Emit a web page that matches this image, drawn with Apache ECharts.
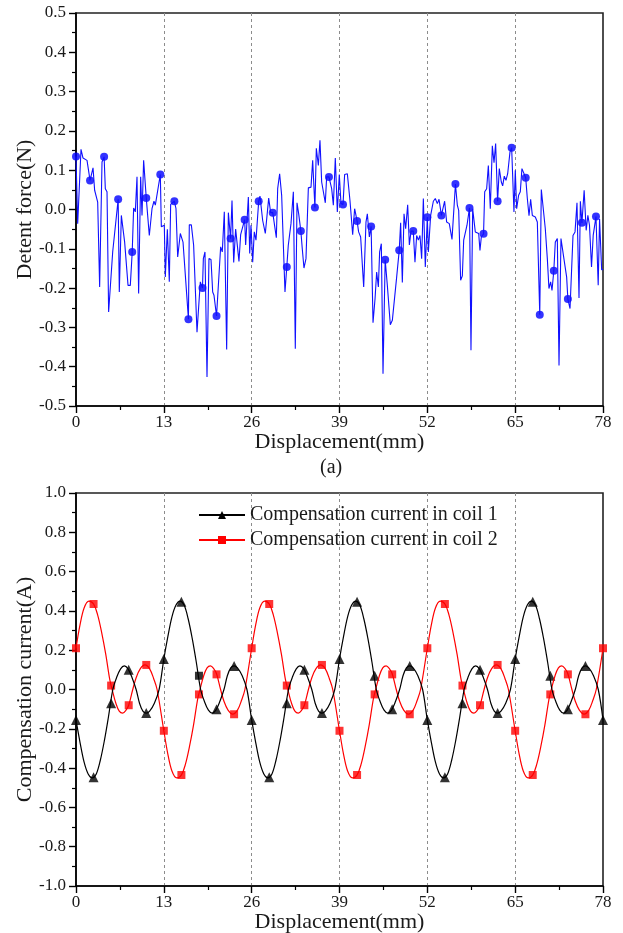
<!DOCTYPE html>
<html>
<head>
<meta charset="utf-8">
<script src="https://cdn.jsdelivr.net/npm/echarts@6/dist/echarts.min.js"></script>
<style>
html,body{margin:0;padding:0;background:#fff;}
#chart{width:623px;height:933px;}
</style>
</head>
<body>
<div id="chart"></div>
<script>
// ---------- Panel (a): detent force ----------
const forceX = [0,0.25,0.74,1.04,1.3,1.63,2.08,2.52,2.76,3.21,3.50,3.85,4.16,4.34,4.59,4.83,5.43,6.24,6.41,6.71,7.20,7.70,8.04,8.32,8.53,8.78,9.03,9.27,9.57,9.77,10.01,10.40,10.85,11.25,11.54,11.74,12.48,12.63,13.07,13.22,13.52,13.81,14.01,14.56,14.80,15.05,15.44,15.84,16.08,16.64,16.77,17.07,17.41,17.66,17.91,18.40,18.72,18.85,19.09,19.39,19.68,19.98,20.23,20.42,20.80,21.41,21.65,21.95,22.30,22.55,22.88,23.09,23.34,23.63,23.83,24.12,24.37,24.57,24.96,25.11,25.51,25.71,25.90,26.15,26.39,26.64,27.04,27.23,27.63,28.02,28.52,28.81,29.12,29.40,29.65,29.85,30.14,30.44,30.69,30.93,31.20,31.42,31.82,32.17,32.46,32.71,32.96,33.28,33.49,33.74,34.04,34.39,34.78,35.03,35.36,35.57,35.87,36.11,36.36,36.61,36.90,37.10,37.44,37.84,38.09,38.38,38.68,38.97,39.22,39.52,39.76,40.16,40.55,40.95,41.24,41.60,41.83,42.13,42.33,42.58,42.92,43.12,43.42,43.68,43.96,44.26,44.50,44.75,44.94,45.19,45.44,45.76,46.08,46.52,46.82,47.07,47.46,47.84,48.05,48.30,48.55,48.79,49.09,49.34,49.59,49.92,50.17,50.42,50.67,50.91,51.16,51.41,51.70,52.00,52.15,52.49,52.89,53.18,53.48,53.73,54.08,54.56,54.86,55.25,55.65,56.16,56.44,56.64,56.93,57.18,57.38,57.62,57.87,58.24,58.46,58.71,59.10,59.60,59.79,59.99,60.32,60.49,60.78,61.03,61.32,61.62,61.87,62.11,62.40,62.65,62.95,63.15,63.39,63.64,63.89,64.23,64.48,64.82,65.02,65.22,65.51,65.76,66.00,66.25,66.56,66.80,67.05,67.29,67.54,67.98,68.28,68.64,68.87,69.12,69.46,69.76,70.00,70.25,70.45,70.72,70.94,71.24,71.49,71.78,72.18,72.62,72.80,73.12,73.56,73.86,74.15,74.45,74.65,74.88,75.21,75.51,75.76,76.00,76.30,76.55,76.96,77.29,77.49,77.80,78.00];
const forceY = [0.135,-0.036,0.153,0.131,0.128,0.125,0.074,0.106,0.049,0.019,-0.197,0.121,0.134,0.053,0.045,-0.261,-0.108,0.026,-0.210,-0.015,-0.083,-0.193,-0.193,-0.108,0.004,-0.006,0.083,-0.214,0.083,-0.015,0.125,0.029,-0.066,0.002,0.021,0.011,0.089,-0.044,-0.040,-0.172,-0.050,-0.184,0.013,0.021,0.002,-0.121,-0.061,-0.083,-0.083,-0.279,-0.039,-0.039,-0.091,-0.091,-0.312,-0.184,-0.200,-0.125,-0.108,-0.426,-0.125,-0.127,-0.210,-0.218,-0.271,-0.095,-0.108,-0.006,-0.356,-0.008,-0.074,0.023,-0.135,-0.050,-0.053,-0.132,-0.064,-0.064,-0.026,-0.090,0.032,-0.112,-0.040,-0.134,-0.057,-0.078,0.021,0.034,-0.028,-0.061,0.029,-0.008,-0.008,-0.008,-0.072,0.053,0.091,0.036,0.036,-0.210,-0.146,-0.091,-0.036,0.045,-0.354,0.017,-0.011,-0.055,-0.100,-0.149,-0.125,0.055,0.057,0.125,0.005,0.156,0.112,0.176,0.070,0.070,0.017,0.083,0.083,0.053,0.011,0.131,-0.006,0.089,0.015,0.013,0.089,0.091,0.023,-0.064,0.002,-0.029,-0.057,-0.070,-0.072,-0.197,-0.032,-0.011,-0.070,-0.043,-0.288,-0.227,-0.159,-0.197,-0.108,-0.087,-0.418,-0.128,-0.193,-0.293,-0.282,-0.278,-0.172,-0.104,-0.034,-0.186,-0.011,-0.049,0.012,-0.090,-0.055,-0.055,-0.134,-0.066,-0.078,-0.066,-0.125,0.028,-0.146,-0.020,-0.108,-0.015,0.021,0.028,0.015,0.026,-0.015,0.021,-0.032,-0.036,-0.076,0.065,0.011,-0.002,-0.180,-0.169,-0.078,-0.078,-0.040,0.004,-0.358,0.002,-0.057,-0.061,-0.104,-0.070,-0.062,0.045,0.053,0.112,0.002,0.162,0.119,0.168,0.021,0.104,0.070,0.060,0.085,0.074,0.091,0.146,0.157,-0.006,0.100,0.002,0.036,0.045,0.104,0.106,0.081,0.028,-0.016,0.026,-0.015,-0.019,-0.032,-0.268,0.051,0.049,-0.049,-0.125,-0.201,-0.184,-0.206,-0.156,-0.083,-0.074,-0.397,-0.074,-0.121,-0.172,-0.228,-0.252,-0.066,-0.057,0.017,-0.225,0.021,-0.034,0.049,-0.053,-0.015,-0.040,-0.146,-0.066,-0.018,-0.193,-0.024,-0.153,-0.153];
const forceMarkX = [0,2.08,4.16,6.24,8.32,10.40,12.48,14.56,16.64,18.72,20.80,22.88,24.96,27.04,29.12,31.20,33.28,35.36,37.44,39.52,41.60,43.68,45.76,47.84,49.92,52.00,54.08,56.16,58.24,60.32,62.40,64.48,66.56,68.64,70.72,72.80,74.88,76.96];
const forceMarkY = [0.135,0.074,0.134,0.026,-0.108,0.029,0.089,0.021,-0.279,-0.200,-0.271,-0.074,-0.026,0.021,-0.008,-0.146,-0.055,0.005,0.083,0.013,-0.029,-0.043,-0.128,-0.104,-0.055,-0.020,-0.015,0.065,0.004,-0.062,0.021,0.157,0.081,-0.268,-0.156,-0.228,-0.034,-0.018];

// ---------- Panel (b): compensation currents ----------
const coil1Line = [[0,-0.155],[0.6,-0.27],[1.2,-0.37],[1.8,-0.43],[2.4,-0.45],[3.0,-0.43],[3.6,-0.36],[4.2,-0.26],[4.8,-0.14],[5.45,0],[6.0,0.06],[6.6,0.105],[7.15,0.12],[7.7,0.105],[8.3,0.06],[8.9,0],[9.4,-0.07],[9.9,-0.11],[10.4,-0.12],[10.9,-0.11],[11.6,-0.07],[12.3,0],[13.0,0.155],[13.6,0.27],[14.2,0.37],[14.8,0.43],[15.4,0.45],[16.0,0.43],[16.6,0.36],[17.2,0.26],[17.8,0.14],[18.45,0],[19.0,-0.06],[19.6,-0.105],[20.15,-0.12],[20.7,-0.105],[21.3,-0.06],[21.9,0],[22.4,0.07],[22.9,0.11],[23.4,0.12],[23.9,0.11],[24.6,0.07],[25.3,0],
[26,-0.155],[26.6,-0.27],[27.2,-0.37],[27.8,-0.43],[28.4,-0.45],[29.0,-0.43],[29.6,-0.36],[30.2,-0.26],[30.8,-0.14],[31.45,0],[32.0,0.06],[32.6,0.105],[33.15,0.12],[33.7,0.105],[34.3,0.06],[34.9,0],[35.4,-0.07],[35.9,-0.11],[36.4,-0.12],[36.9,-0.11],[37.6,-0.07],[38.3,0],[39.0,0.155],[39.6,0.27],[40.2,0.37],[40.8,0.43],[41.4,0.45],[42.0,0.43],[42.6,0.36],[43.2,0.26],[43.8,0.14],[44.45,0],[45.0,-0.06],[45.6,-0.105],[46.15,-0.12],[46.7,-0.105],[47.3,-0.06],[47.9,0],[48.4,0.07],[48.9,0.11],[49.4,0.12],[49.9,0.11],[50.6,0.07],[51.3,0],
[52,-0.155],[52.6,-0.27],[53.2,-0.37],[53.8,-0.43],[54.4,-0.45],[55.0,-0.43],[55.6,-0.36],[56.2,-0.26],[56.8,-0.14],[57.45,0],[58.0,0.06],[58.6,0.105],[59.15,0.12],[59.7,0.105],[60.3,0.06],[60.9,0],[61.4,-0.07],[61.9,-0.11],[62.4,-0.12],[62.9,-0.11],[63.6,-0.07],[64.3,0],[65.0,0.155],[65.6,0.27],[66.2,0.37],[66.8,0.43],[67.4,0.45],[68.0,0.43],[68.6,0.36],[69.2,0.26],[69.8,0.14],[70.45,0],[71.0,-0.06],[71.6,-0.105],[72.15,-0.12],[72.7,-0.105],[73.3,-0.06],[73.9,0],[74.4,0.07],[74.9,0.11],[75.4,0.12],[75.9,0.11],[76.6,0.07],[77.3,0],[78,-0.155]];
const coil2Line = [[0,0.21],[0.6,0.33],[1.2,0.415],[1.9,0.45],[2.6,0.435],[3.2,0.38],[3.8,0.29],[4.4,0.18],[5.0,0.05],[5.35,0],[5.9,-0.07],[6.4,-0.11],[6.9,-0.12],[7.4,-0.105],[7.8,-0.08],[8.4,0],[8.9,0.06],[9.5,0.105],[10.2,0.125],[10.9,0.105],[11.5,0.055],[12.0,0],[13.0,-0.21],[13.6,-0.33],[14.2,-0.415],[14.9,-0.45],[15.6,-0.435],[16.2,-0.38],[16.8,-0.29],[17.4,-0.18],[18.0,-0.05],[18.35,0],[18.9,0.07],[19.4,0.11],[19.9,0.12],[20.4,0.105],[20.8,0.08],[21.4,0],[21.9,-0.06],[22.5,-0.105],[23.2,-0.125],[23.9,-0.105],[24.5,-0.055],[25.0,0],
[26,0.21],[26.6,0.33],[27.2,0.415],[27.9,0.45],[28.6,0.435],[29.2,0.38],[29.8,0.29],[30.4,0.18],[31.0,0.05],[31.35,0],[31.9,-0.07],[32.4,-0.11],[32.9,-0.12],[33.4,-0.105],[33.8,-0.08],[34.4,0],[34.9,0.06],[35.5,0.105],[36.2,0.125],[36.9,0.105],[37.5,0.055],[38.0,0],[39.0,-0.21],[39.6,-0.33],[40.2,-0.415],[40.9,-0.45],[41.6,-0.435],[42.2,-0.38],[42.8,-0.29],[43.4,-0.18],[44.0,-0.05],[44.35,0],[44.9,0.07],[45.4,0.11],[45.9,0.12],[46.4,0.105],[46.8,0.08],[47.4,0],[47.9,-0.06],[48.5,-0.105],[49.2,-0.125],[49.9,-0.105],[50.5,-0.055],[51.0,0],
[52,0.21],[52.6,0.33],[53.2,0.415],[53.9,0.45],[54.6,0.435],[55.2,0.38],[55.8,0.29],[56.4,0.18],[57.0,0.05],[57.35,0],[57.9,-0.07],[58.4,-0.11],[58.9,-0.12],[59.4,-0.105],[59.8,-0.08],[60.4,0],[60.9,0.06],[61.5,0.105],[62.2,0.125],[62.9,0.105],[63.5,0.055],[64.0,0],[65.0,-0.21],[65.6,-0.33],[66.2,-0.415],[66.9,-0.45],[67.6,-0.435],[68.2,-0.38],[68.8,-0.29],[69.4,-0.18],[70.0,-0.05],[70.35,0],[70.9,0.07],[71.4,0.11],[71.9,0.12],[72.4,0.105],[72.8,0.08],[73.4,0],[73.9,-0.06],[74.5,-0.105],[75.2,-0.125],[75.9,-0.105],[76.5,-0.055],[77.0,0],[78,0.21]];
const markX = [0,2.6,5.2,7.8,10.4,13,15.6,18.2,20.8,23.4,26,28.6,31.2,33.8,36.4,39,41.6,44.2,46.8,49.4,52,54.6,57.2,59.8,62.4,65,67.6,70.2,72.8,75.4,78];
const coil1Mark = [-0.155,-0.447,-0.07,0.10,-0.12,0.155,0.447,0.07,-0.10,0.12,-0.155,-0.447,-0.07,0.10,-0.12,0.155,0.447,0.07,-0.10,0.12,-0.155,-0.447,-0.07,0.10,-0.12,0.155,0.447,0.07,-0.10,0.12,-0.155];
const coil2Mark = [0.21,0.435,0.02,-0.08,0.125,-0.21,-0.435,-0.025,0.077,-0.126,0.21,0.435,0.02,-0.08,0.125,-0.21,-0.435,-0.025,0.077,-0.126,0.21,0.435,0.02,-0.08,0.125,-0.21,-0.435,-0.025,0.077,-0.126,0.21];

const xTicks = {min:0, max:78, interval:13};
const name1 = 'Compensation current in coil 1';
const name2 = 'Compensation current in coil 2';

const FONT = 'Liberation Serif';
const TXT = '#1a1a1a';

function xAxisCfg(gridIndex){
  return {
    type:'value', gridIndex, min:xTicks.min, max:xTicks.max, interval:xTicks.interval,
    name:'Displacement(mm)', nameLocation:'middle', nameGap:25, nameMoveOverlap:false,
    nameTextStyle:{fontFamily:FONT, fontSize:22, color:TXT},
    axisLine:{show:true, onZero:false, lineStyle:{color:'#000', width:1.6}},
    axisTick:{show:true, inside:false, length:7, lineStyle:{color:'#000', width:1.4}},
    minorTick:{show:true, splitNumber:2, length:4, lineStyle:{color:'#000', width:1.2}},
    axisLabel:{fontFamily:FONT, fontSize:17, color:TXT, margin:8},
    splitLine:{show:true, showMinLine:false, showMaxLine:false, lineStyle:{color:'#8c8c8c', type:[3,3], width:1}},
    minorSplitLine:{show:false}
  };
}
function yAxisCfg(gridIndex, min, max, interval, name){
  return {
    type:'value', gridIndex, min, max, interval,
    name, nameLocation:'middle', nameGap:40, nameRotate:90, nameMoveOverlap:false,
    nameTextStyle:{fontFamily:FONT, fontSize:22, color:TXT},
    axisLine:{show:true, onZero:false, lineStyle:{color:'#000', width:1.6}},
    axisTick:{show:true, inside:false, length:7, lineStyle:{color:'#000', width:1.4}},
    minorTick:{show:true, splitNumber:2, length:4, lineStyle:{color:'#000', width:1.2}},
    axisLabel:{fontFamily:FONT, fontSize:17, color:TXT, margin:10, formatter:(v)=>Number(v).toFixed(1)},
    splitLine:{show:false}
  };
}

const chart = echarts.init(document.getElementById('chart'), null, {renderer:'canvas'});
chart.setOption({
  animation:false,
  backgroundColor:'#fff',
  grid:[
    {left:76, top:13, width:527, height:393, show:true, borderColor:'#222', borderWidth:1.6, backgroundColor:'transparent', outerBoundsMode:'none', containLabel:false},
    {left:76, top:493, width:527, height:393, show:true, borderColor:'#222', borderWidth:1.6, backgroundColor:'transparent', outerBoundsMode:'none', containLabel:false}
  ],
  xAxis:[xAxisCfg(0), xAxisCfg(1)],
  yAxis:[yAxisCfg(0,-0.5,0.5,0.1,'Detent force(N)'), yAxisCfg(1,-1.0,1.0,0.2,'Compensation current(A)')],
  legend:{
    orient:'vertical', left:193, top:500, itemWidth:46, itemHeight:10, itemGap:5,
    data:[name1, name2],
    textStyle:{fontFamily:FONT, fontSize:20, color:TXT, lineHeight:20},
    selectedMode:false
  },
  graphic:[{type:'text', left:320, top:458, style:{text:'(a)', fontFamily:FONT, fontSize:20, fill:TXT}}],
  series:[
    {type:'line', xAxisIndex:0, yAxisIndex:0, data:forceX.map((x,i)=>[x,forceY[i]]),
     showSymbol:false, lineStyle:{color:'#1010ff', width:1.1}, itemStyle:{color:'#1010ff'}},
    {type:'scatter', xAxisIndex:0, yAxisIndex:0, data:forceMarkX.map((x,i)=>[x,forceMarkY[i]]),
     symbol:'circle', symbolSize:8, itemStyle:{color:'#0000ff'}},
    {type:'line', name:name2, xAxisIndex:1, yAxisIndex:1, data:coil2Line, smooth:0.35,
     showSymbol:false, symbol:'rect', symbolSize:8, lineStyle:{color:'#ff0000', width:1.2}, itemStyle:{color:'#ff0000'}},
    {type:'line', name:name1, xAxisIndex:1, yAxisIndex:1, data:coil1Line, smooth:0.35,
     showSymbol:false, symbol:'triangle', symbolSize:10, lineStyle:{color:'#000', width:1.2}, itemStyle:{color:'#000'}},
    {type:'scatter', name:name2, xAxisIndex:1, yAxisIndex:1, data:markX.map((x,i)=>[x,coil2Mark[i]]),
     symbol:'rect', symbolSize:8, itemStyle:{color:'#ff0000'}},
    {type:'scatter', name:name1, xAxisIndex:1, yAxisIndex:1,
     data:markX.map((x,i)=> i===7 ? {value:[x,coil1Mark[i]], symbol:'rect', symbolSize:8} : [x,coil1Mark[i]]),
     symbol:'triangle', symbolSize:10, itemStyle:{color:'#000'}}
  ]
});
</script>
</body>
</html>
